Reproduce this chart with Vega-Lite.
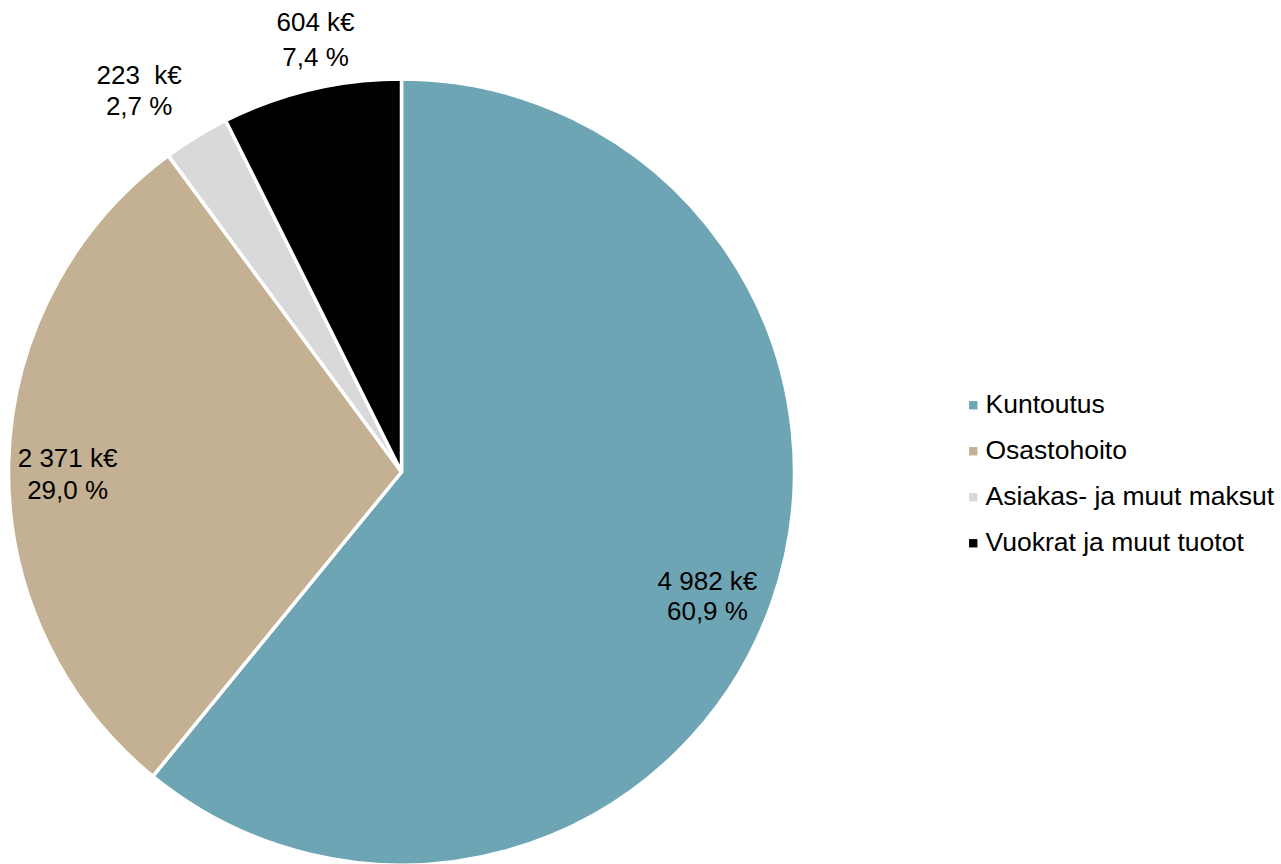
{
  "$schema": "https://vega.github.io/schema/vega-lite/v6.json",
  "autosize": "none",
  "width": 803,
  "height": 784,
  "padding": {"left": 0, "top": 80, "right": 478, "bottom": 0},
  "background": "white",
  "config": {"view": {"stroke": null}},
  "data": {
    "values": [
      {"i": 1, "cat": "Kuntoutus", "value": 4982, "label": ["4 982 k€", "60,9 %"]},
      {"i": 2, "cat": "Osastohoito", "value": 2371, "label": ["2 371 k€", "29,0 %"]},
      {"i": 3, "cat": "Asiakas- ja muut maksut", "value": 223, "label": ["223\u00a0 k€", "2,7 %"]},
      {"i": 4, "cat": "Vuokrat ja muut tuotot", "value": 604, "label": ["604 k€", "7,4 %"]}
    ]
  },
  "encoding": {
    "theta": {"field": "value", "type": "quantitative", "stack": true},
    "order": {"field": "i", "type": "quantitative"}
  },
  "layer": [
    {
      "mark": {"type": "arc", "outerRadius": 393, "stroke": "white", "strokeWidth": 3.5},
      "encoding": {
        "color": {
          "field": "cat",
          "type": "nominal",
          "sort": null,
          "scale": {
            "domain": ["Kuntoutus", "Osastohoito", "Asiakas- ja muut maksut", "Vuokrat ja muut tuotot"],
            "range": ["#6EA5B4", "#C4B092", "#D9D9D9", "#000000"]
          },
          "legend": {
            "title": null,
            "orient": "none",
            "legendX": 960,
            "legendY": 312,
            "padding": 0,
            "symbolType": "square",
            "symbolSize": 70,
            "symbolStrokeWidth": 0,
            "labelFont": "Liberation Sans",
            "labelFontSize": 26.5,
            "labelColor": "#000000",
            "labelOffset": -1,
            "rowPadding": 19,
            "labelLimit": 400
          }
        }
      }
    },
    {
      "mark": {"type": "text", "radius": 328, "dx": -3, "font": "Liberation Sans", "fontSize": 26, "lineHeight": 30, "align": "center", "baseline": "middle", "color": "#000000"},
      "encoding": {
        "text": {"condition": {"test": "datum.i == 1", "field": "label"}, "value": ""}
      }
    },
    {
      "mark": {"type": "text", "radius": 334, "dy": -5, "font": "Liberation Sans", "fontSize": 26, "lineHeight": 32, "align": "center", "baseline": "middle", "color": "#000000"},
      "encoding": {
        "text": {"condition": {"test": "datum.i == 2", "field": "label"}, "value": ""}
      }
    },
    {
      "mark": {"type": "text", "radius": 464, "dx": -20, "font": "Liberation Sans", "fontSize": 26, "lineHeight": 31, "align": "center", "baseline": "middle", "color": "#000000"},
      "encoding": {
        "text": {"condition": {"test": "datum.i == 3", "field": "label"}, "value": ""}
      }
    },
    {
      "mark": {"type": "text", "radius": 461, "dx": 20, "font": "Liberation Sans", "fontSize": 26, "lineHeight": 35, "align": "center", "baseline": "middle", "color": "#000000"},
      "encoding": {
        "text": {"condition": {"test": "datum.i == 4", "field": "label"}, "value": ""}
      }
    }
  ]
}
